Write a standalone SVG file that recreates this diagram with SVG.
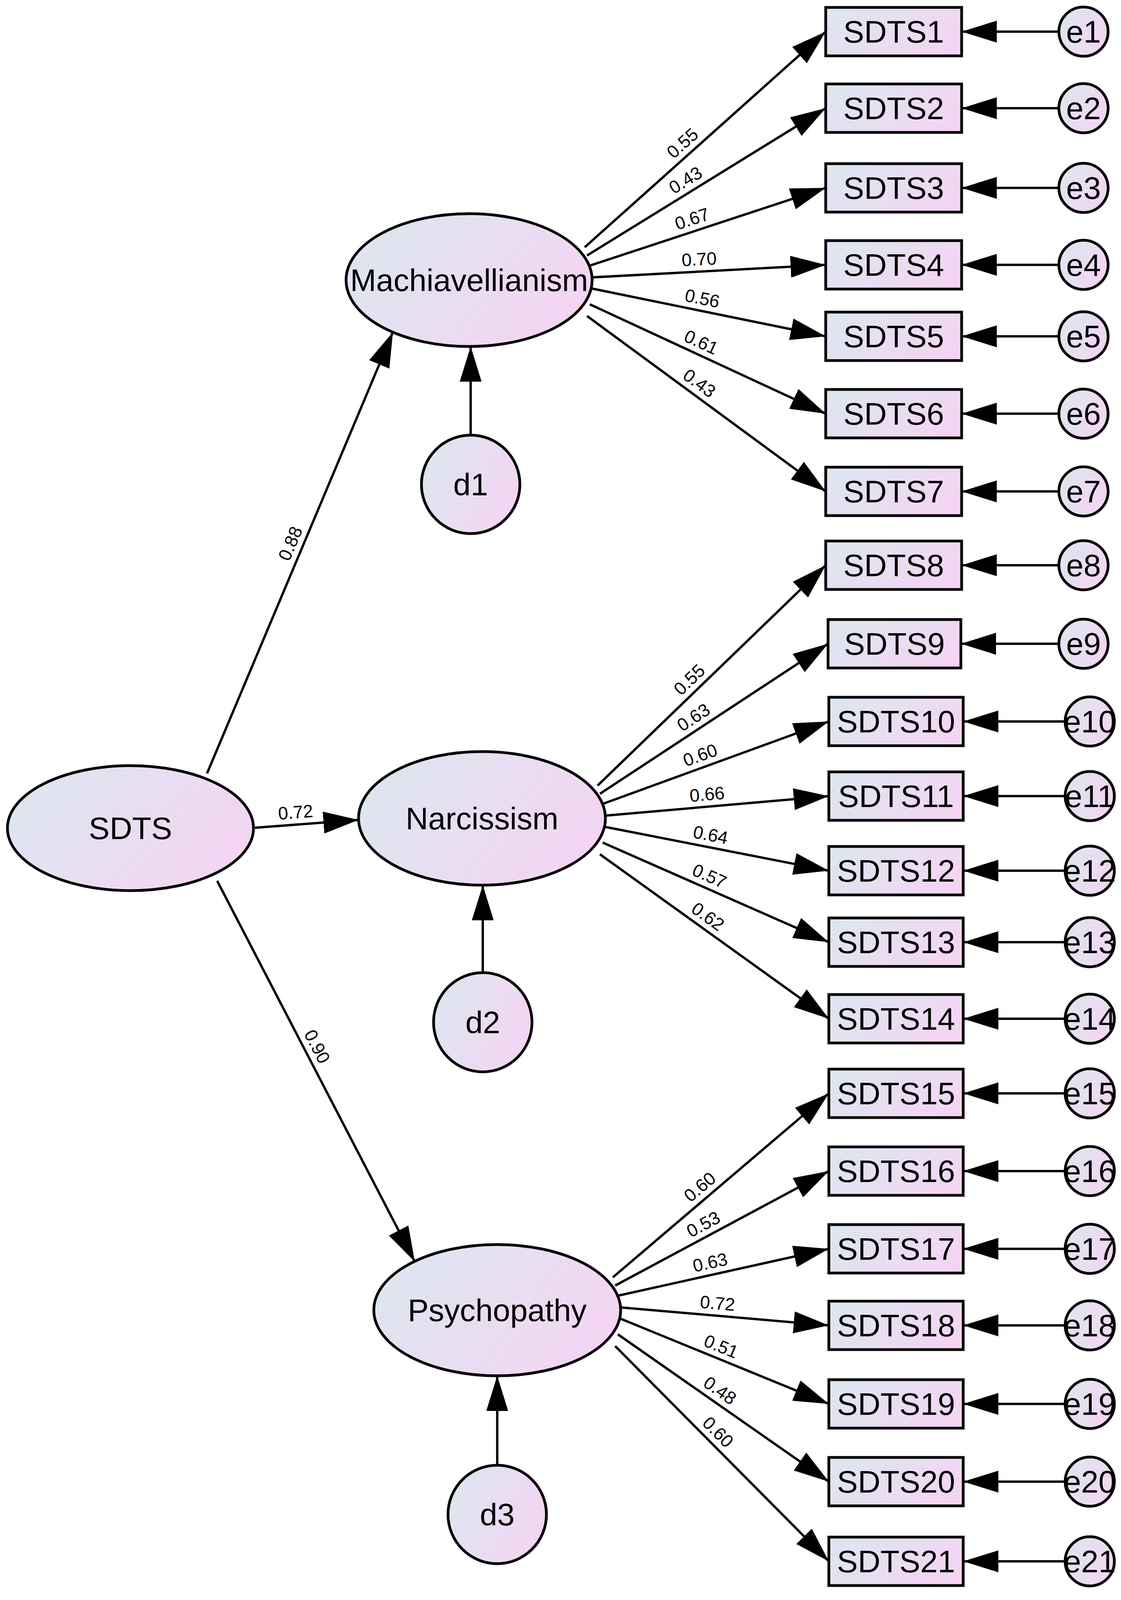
<svg xmlns="http://www.w3.org/2000/svg" xmlns:xlink="http://www.w3.org/1999/xlink" width="2870" height="4102" viewBox="0 0 2870 4102">
<style>
.c{fill:none;stroke:#000;stroke-width:6;marker-end:url(#ah)}
.n{fill:url(#g);stroke:#000;stroke-width:7}
.t{font-family:"Liberation Sans",Arial,sans-serif;font-size:80px;text-anchor:middle;fill:#000}
.l{font-family:"Liberation Sans",Arial,sans-serif;font-size:46px;fill:#000}
</style>
<defs>
<linearGradient id="g" x1="0" y1="0.3" x2="1" y2="0.7"><stop offset="0" stop-color="#dde6ef"/><stop offset="1" stop-color="#f5d4f3"/></linearGradient>
<marker id="ah" markerUnits="userSpaceOnUse" markerWidth="92" markerHeight="58" refX="90" refY="28" orient="auto"><path d="M0,0 L90,28 L0,56 z" fill="#000"/></marker>
</defs>
<rect width="2870" height="4102" fill="#fff"/>
<g id="connectors">
<path id="s1" class="c" d="M530,1980 L1006,850"/>
<path id="s2" class="c" d="M653,2119 L918,2099"/>
<path id="s3" class="c" d="M556,2255 L1062,3230"/>
<path class="c" d="M1205,1114 L1205,887"/>
<path class="c" d="M1236,2490 L1236,2266"/>
<path class="c" d="M1273,3751 L1273,3522"/>
<path id="m1" class="c" d="M1497,633 L2114,81"/>
<path id="m2" class="c" d="M1503,654 L2114,277"/>
<path id="m3" class="c" d="M1510,680 L2114,481"/>
<path id="m4" class="c" d="M1517,710 L2114,678"/>
<path id="m5" class="c" d="M1517,739 L2114,861"/>
<path id="m6" class="c" d="M1510,779 L2114,1059"/>
<path id="m7" class="c" d="M1503,809 L2114,1258"/>
<path id="n1" class="c" d="M1530,2011 L2114,1447"/>
<path id="n2" class="c" d="M1536,2032 L2120,1648"/>
<path id="n3" class="c" d="M1543,2058 L2122,1847"/>
<path id="n4" class="c" d="M1550,2088 L2122,2038"/>
<path id="n5" class="c" d="M1550,2117 L2122,2229"/>
<path id="n6" class="c" d="M1543,2157 L2122,2412"/>
<path id="n7" class="c" d="M1536,2187 L2122,2608"/>
<path id="q1" class="c" d="M1569,3270 L2122,2799"/>
<path id="q2" class="c" d="M1575,3291 L2122,2998"/>
<path id="q3" class="c" d="M1582,3317 L2122,3197"/>
<path id="q4" class="c" d="M1589,3347 L2122,3393"/>
<path id="q5" class="c" d="M1589,3376 L2122,3594"/>
<path id="q6" class="c" d="M1582,3416 L2122,3793"/>
<path id="q7" class="c" d="M1575,3446 L2122,3997"/>
<path class="c" d="M2711,81 L2462,81"/>
<path class="c" d="M2711,277 L2462,277"/>
<path class="c" d="M2711,481 L2462,481"/>
<path class="c" d="M2711,678 L2462,678"/>
<path class="c" d="M2711,861 L2462,861"/>
<path class="c" d="M2711,1059 L2462,1059"/>
<path class="c" d="M2711,1258 L2462,1258"/>
<path class="c" d="M2711,1447 L2462,1447"/>
<path class="c" d="M2711,1648 L2460,1648"/>
<path class="c" d="M2727,1847 L2466,1847"/>
<path class="c" d="M2727,2038 L2466,2038"/>
<path class="c" d="M2727,2229 L2466,2229"/>
<path class="c" d="M2727,2412 L2466,2412"/>
<path class="c" d="M2727,2608 L2466,2608"/>
<path class="c" d="M2727,2799 L2466,2799"/>
<path class="c" d="M2727,2998 L2466,2998"/>
<path class="c" d="M2727,3197 L2466,3197"/>
<path class="c" d="M2727,3393 L2466,3393"/>
<path class="c" d="M2727,3594 L2466,3594"/>
<path class="c" d="M2727,3793 L2466,3793"/>
<path class="c" d="M2727,3997 L2466,3997"/>
<g class="l">
<text dy="-16"><textPath href="#s1" startOffset="51%" text-anchor="middle">0.88</textPath></text>
<text dy="-16"><textPath href="#s2" startOffset="40%" text-anchor="middle">0.72</textPath></text>
<text dy="-16"><textPath href="#s3" startOffset="45%" text-anchor="middle">0.90</textPath></text>
<text dy="-16"><textPath href="#m1" startOffset="44%" text-anchor="middle">0.55</textPath></text>
<text dy="-16"><textPath href="#m2" startOffset="44%" text-anchor="middle">0.43</textPath></text>
<text dy="-16"><textPath href="#m3" startOffset="45%" text-anchor="middle">0.67</textPath></text>
<text dy="-16"><textPath href="#m4" startOffset="46%" text-anchor="middle">0.70</textPath></text>
<text dy="-16"><textPath href="#m5" startOffset="46%" text-anchor="middle">0.56</textPath></text>
<text dy="-16"><textPath href="#m6" startOffset="45%" text-anchor="middle">0.61</textPath></text>
<text dy="-16"><textPath href="#m7" startOffset="44%" text-anchor="middle">0.43</textPath></text>
<text dy="-16"><textPath href="#n1" startOffset="44%" text-anchor="middle">0.55</textPath></text>
<text dy="-16"><textPath href="#n2" startOffset="44%" text-anchor="middle">0.63</textPath></text>
<text dy="-16"><textPath href="#n3" startOffset="45%" text-anchor="middle">0.60</textPath></text>
<text dy="-16"><textPath href="#n4" startOffset="46%" text-anchor="middle">0.66</textPath></text>
<text dy="-16"><textPath href="#n5" startOffset="46%" text-anchor="middle">0.64</textPath></text>
<text dy="-16"><textPath href="#n6" startOffset="45%" text-anchor="middle">0.57</textPath></text>
<text dy="-16"><textPath href="#n7" startOffset="44%" text-anchor="middle">0.62</textPath></text>
<text dy="-16"><textPath href="#q1" startOffset="44%" text-anchor="middle">0.60</textPath></text>
<text dy="-16"><textPath href="#q2" startOffset="44%" text-anchor="middle">0.53</textPath></text>
<text dy="-16"><textPath href="#q3" startOffset="45%" text-anchor="middle">0.63</textPath></text>
<text dy="-16"><textPath href="#q4" startOffset="46%" text-anchor="middle">0.72</textPath></text>
<text dy="-16"><textPath href="#q5" startOffset="46%" text-anchor="middle">0.51</textPath></text>
<text dy="-16"><textPath href="#q6" startOffset="45%" text-anchor="middle">0.48</textPath></text>
<text dy="-16"><textPath href="#q7" startOffset="44%" text-anchor="middle">0.60</textPath></text>
</g>
</g>
<g id="SDTS"><ellipse class="n" cx="334" cy="2120" rx="315" ry="160"/><text class="t" x="334" y="2148">SDTS</text></g>
<g id="Machiavellianism"><ellipse class="n" cx="1201" cy="717" rx="315" ry="170"/><text class="t" x="1201" y="745">Machiavellianism</text></g>
<g id="Narcissism"><ellipse class="n" cx="1234" cy="2095" rx="316" ry="171"/><text class="t" x="1234" y="2123">Narcissism</text></g>
<g id="Psychopathy"><ellipse class="n" cx="1273" cy="3354" rx="316" ry="168"/><text class="t" x="1273" y="3382">Psychopathy</text></g>
<g id="d1"><ellipse class="n" cx="1205" cy="1240" rx="126" ry="126"/><text class="t" x="1205" y="1268">d1</text></g>
<g id="d2"><ellipse class="n" cx="1236" cy="2617" rx="126" ry="127"/><text class="t" x="1236" y="2645">d2</text></g>
<g id="d3"><ellipse class="n" cx="1273" cy="3877" rx="126" ry="126"/><text class="t" x="1273" y="3905">d3</text></g>
<g id="SDTS1"><rect class="n" x="2114" y="19" width="348" height="124"/><text class="t" x="2288" y="109">SDTS1</text></g>
<g id="SDTS2"><rect class="n" x="2114" y="215" width="348" height="124"/><text class="t" x="2288" y="305">SDTS2</text></g>
<g id="SDTS3"><rect class="n" x="2114" y="419" width="348" height="124"/><text class="t" x="2288" y="509">SDTS3</text></g>
<g id="SDTS4"><rect class="n" x="2114" y="616" width="348" height="124"/><text class="t" x="2288" y="706">SDTS4</text></g>
<g id="SDTS5"><rect class="n" x="2114" y="799" width="348" height="124"/><text class="t" x="2288" y="889">SDTS5</text></g>
<g id="SDTS6"><rect class="n" x="2114" y="997" width="348" height="124"/><text class="t" x="2288" y="1087">SDTS6</text></g>
<g id="SDTS7"><rect class="n" x="2114" y="1196" width="348" height="124"/><text class="t" x="2288" y="1286">SDTS7</text></g>
<g id="SDTS8"><rect class="n" x="2114" y="1385" width="348" height="124"/><text class="t" x="2288" y="1475">SDTS8</text></g>
<g id="SDTS9"><rect class="n" x="2120" y="1586" width="340" height="124"/><text class="t" x="2290" y="1676">SDTS9</text></g>
<g id="SDTS10"><rect class="n" x="2122" y="1785" width="344" height="124"/><text class="t" x="2294" y="1875">SDTS10</text></g>
<g id="SDTS11"><rect class="n" x="2122" y="1976" width="344" height="124"/><text class="t" x="2294" y="2066">SDTS11</text></g>
<g id="SDTS12"><rect class="n" x="2122" y="2167" width="344" height="124"/><text class="t" x="2294" y="2257">SDTS12</text></g>
<g id="SDTS13"><rect class="n" x="2122" y="2350" width="344" height="124"/><text class="t" x="2294" y="2440">SDTS13</text></g>
<g id="SDTS14"><rect class="n" x="2122" y="2546" width="344" height="124"/><text class="t" x="2294" y="2636">SDTS14</text></g>
<g id="SDTS15"><rect class="n" x="2122" y="2737" width="344" height="124"/><text class="t" x="2294" y="2827">SDTS15</text></g>
<g id="SDTS16"><rect class="n" x="2122" y="2936" width="344" height="124"/><text class="t" x="2294" y="3026">SDTS16</text></g>
<g id="SDTS17"><rect class="n" x="2122" y="3135" width="344" height="124"/><text class="t" x="2294" y="3225">SDTS17</text></g>
<g id="SDTS18"><rect class="n" x="2122" y="3331" width="344" height="124"/><text class="t" x="2294" y="3421">SDTS18</text></g>
<g id="SDTS19"><rect class="n" x="2122" y="3532" width="344" height="124"/><text class="t" x="2294" y="3622">SDTS19</text></g>
<g id="SDTS20"><rect class="n" x="2122" y="3731" width="344" height="124"/><text class="t" x="2294" y="3821">SDTS20</text></g>
<g id="SDTS21"><rect class="n" x="2122" y="3935" width="344" height="124"/><text class="t" x="2294" y="4025">SDTS21</text></g>
<g id="e1"><circle class="n" cx="2774" cy="81" r="63"/><text class="t" x="2774" y="109">e1</text></g>
<g id="e2"><circle class="n" cx="2774" cy="277" r="63"/><text class="t" x="2774" y="305">e2</text></g>
<g id="e3"><circle class="n" cx="2774" cy="481" r="63"/><text class="t" x="2774" y="509">e3</text></g>
<g id="e4"><circle class="n" cx="2774" cy="678" r="63"/><text class="t" x="2774" y="706">e4</text></g>
<g id="e5"><circle class="n" cx="2774" cy="861" r="63"/><text class="t" x="2774" y="889">e5</text></g>
<g id="e6"><circle class="n" cx="2774" cy="1059" r="63"/><text class="t" x="2774" y="1087">e6</text></g>
<g id="e7"><circle class="n" cx="2774" cy="1258" r="63"/><text class="t" x="2774" y="1286">e7</text></g>
<g id="e8"><circle class="n" cx="2774" cy="1447" r="63"/><text class="t" x="2774" y="1475">e8</text></g>
<g id="e9"><circle class="n" cx="2774" cy="1648" r="63"/><text class="t" x="2774" y="1676">e9</text></g>
<g id="e10"><circle class="n" cx="2790" cy="1847" r="63"/><text class="t" x="2790" y="1875">e10</text></g>
<g id="e11"><circle class="n" cx="2790" cy="2038" r="63"/><text class="t" x="2790" y="2066">e11</text></g>
<g id="e12"><circle class="n" cx="2790" cy="2229" r="63"/><text class="t" x="2790" y="2257">e12</text></g>
<g id="e13"><circle class="n" cx="2790" cy="2412" r="63"/><text class="t" x="2790" y="2440">e13</text></g>
<g id="e14"><circle class="n" cx="2790" cy="2608" r="63"/><text class="t" x="2790" y="2636">e14</text></g>
<g id="e15"><circle class="n" cx="2790" cy="2799" r="63"/><text class="t" x="2790" y="2827">e15</text></g>
<g id="e16"><circle class="n" cx="2790" cy="2998" r="63"/><text class="t" x="2790" y="3026">e16</text></g>
<g id="e17"><circle class="n" cx="2790" cy="3197" r="63"/><text class="t" x="2790" y="3225">e17</text></g>
<g id="e18"><circle class="n" cx="2790" cy="3393" r="63"/><text class="t" x="2790" y="3421">e18</text></g>
<g id="e19"><circle class="n" cx="2790" cy="3594" r="63"/><text class="t" x="2790" y="3622">e19</text></g>
<g id="e20"><circle class="n" cx="2790" cy="3793" r="63"/><text class="t" x="2790" y="3821">e20</text></g>
<g id="e21"><circle class="n" cx="2790" cy="3997" r="63"/><text class="t" x="2790" y="4025">e21</text></g>
</svg>
